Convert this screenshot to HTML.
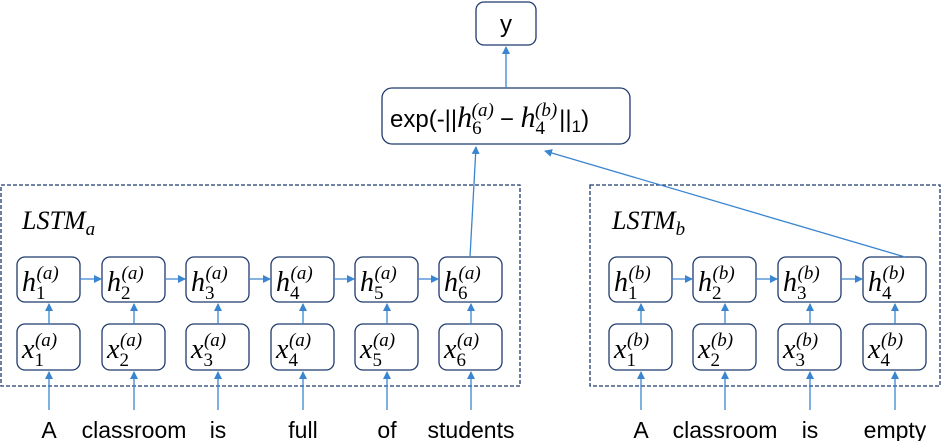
<!DOCTYPE html>
<html><head><style>body{margin:0;background:#fff}svg{display:block}</style></head><body>
<svg width="942" height="441" viewBox="0 0 942 441" xmlns="http://www.w3.org/2000/svg">
<defs><marker id="a" markerWidth="8" markerHeight="8" refX="7" refY="4" orient="auto" markerUnits="userSpaceOnUse"><path d="M0,0 L8,4 L0,8 z" fill="#3a85d0"/></marker></defs>
<g fill="none" stroke="#1f3a6e" stroke-width="1.3">
<rect x="1" y="185" width="519" height="201" stroke-dasharray="4,2"/>
<rect x="590" y="185" width="350" height="201" stroke-dasharray="4,2"/>
<rect x="476" y="2" width="60" height="43" rx="8"/>
<rect x="382" y="88" width="248" height="56" rx="10"/>
<rect x="17" y="257" width="63" height="45" rx="8"/><rect x="102" y="257" width="63" height="45" rx="8"/><rect x="186" y="257" width="63" height="45" rx="8"/><rect x="271" y="257" width="63" height="45" rx="8"/><rect x="355" y="257" width="63" height="45" rx="8"/><rect x="439" y="257" width="63" height="45" rx="8"/>
<rect x="17" y="324" width="63" height="46" rx="8"/><rect x="102" y="324" width="63" height="46" rx="8"/><rect x="186" y="324" width="63" height="46" rx="8"/><rect x="271" y="324" width="63" height="46" rx="8"/><rect x="355" y="324" width="63" height="46" rx="8"/><rect x="439" y="324" width="63" height="46" rx="8"/>
<rect x="609" y="257" width="63" height="45" rx="8"/><rect x="693" y="257" width="63" height="45" rx="8"/><rect x="778" y="257" width="63" height="45" rx="8"/><rect x="863" y="257" width="63" height="45" rx="8"/>
<rect x="609" y="324" width="63" height="46" rx="8"/><rect x="693" y="324" width="63" height="46" rx="8"/><rect x="778" y="324" width="63" height="46" rx="8"/><rect x="863" y="324" width="63" height="46" rx="8"/>
</g>
<g font-family="Liberation Sans, sans-serif" font-size="24" fill="#000">
<text x="506" y="32" text-anchor="middle">y</text>
<text x="390" y="127">exp(-||<tspan font-family="Liberation Serif" font-style="italic" font-size="30">h</tspan><tspan font-size="19" dy="7" font-family="Liberation Serif">6</tspan><tspan font-size="19" dy="-18" dx="-10" font-family="Liberation Serif" font-style="italic">(a)</tspan><tspan dy="11" dx="6">−  </tspan><tspan font-family="Liberation Serif" font-style="italic" font-size="30">h</tspan><tspan font-size="19" dy="7" font-family="Liberation Serif">4</tspan><tspan font-size="19" dy="-18" dx="-10" font-family="Liberation Serif" font-style="italic">(b)</tspan><tspan dy="11" dx="2">||</tspan><tspan font-size="17" dy="5">1</tspan><tspan dy="-5">)</tspan></text>
<text x="22" y="229" font-family="Liberation Serif" font-style="italic" font-size="26">LSTM<tspan font-size="19" dy="6">a</tspan></text>
<text x="612" y="229" font-family="Liberation Serif" font-style="italic" font-size="26">LSTM<tspan font-size="19" dy="6">b</tspan></text>
</g>
<g font-family="Liberation Serif" font-style="italic" font-size="28" fill="#000">
<text x="22" y="291">h<tspan font-style="normal" font-size="19" dy="8">1</tspan><tspan font-size="19" dy="-20" dx="-9">(a)</tspan></text>
<text x="107" y="291">h<tspan font-style="normal" font-size="19" dy="8">2</tspan><tspan font-size="19" dy="-20" dx="-9">(a)</tspan></text>
<text x="191" y="291">h<tspan font-style="normal" font-size="19" dy="8">3</tspan><tspan font-size="19" dy="-20" dx="-9">(a)</tspan></text>
<text x="276" y="291">h<tspan font-style="normal" font-size="19" dy="8">4</tspan><tspan font-size="19" dy="-20" dx="-9">(a)</tspan></text>
<text x="360" y="291">h<tspan font-style="normal" font-size="19" dy="8">5</tspan><tspan font-size="19" dy="-20" dx="-9">(a)</tspan></text>
<text x="444" y="291">h<tspan font-style="normal" font-size="19" dy="8">6</tspan><tspan font-size="19" dy="-20" dx="-9">(a)</tspan></text>
<text x="22" y="358">x<tspan font-style="normal" font-size="19" dy="8">1</tspan><tspan font-size="19" dy="-20" dx="-9">(a)</tspan></text>
<text x="107" y="358">x<tspan font-style="normal" font-size="19" dy="8">2</tspan><tspan font-size="19" dy="-20" dx="-9">(a)</tspan></text>
<text x="191" y="358">x<tspan font-style="normal" font-size="19" dy="8">3</tspan><tspan font-size="19" dy="-20" dx="-9">(a)</tspan></text>
<text x="276" y="358">x<tspan font-style="normal" font-size="19" dy="8">4</tspan><tspan font-size="19" dy="-20" dx="-9">(a)</tspan></text>
<text x="360" y="358">x<tspan font-style="normal" font-size="19" dy="8">5</tspan><tspan font-size="19" dy="-20" dx="-9">(a)</tspan></text>
<text x="444" y="358">x<tspan font-style="normal" font-size="19" dy="8">6</tspan><tspan font-size="19" dy="-20" dx="-9">(a)</tspan></text>
<text x="614" y="291">h<tspan font-style="normal" font-size="19" dy="8">1</tspan><tspan font-size="19" dy="-20" dx="-9">(b)</tspan></text>
<text x="698" y="291">h<tspan font-style="normal" font-size="19" dy="8">2</tspan><tspan font-size="19" dy="-20" dx="-9">(b)</tspan></text>
<text x="783" y="291">h<tspan font-style="normal" font-size="19" dy="8">3</tspan><tspan font-size="19" dy="-20" dx="-9">(b)</tspan></text>
<text x="868" y="291">h<tspan font-style="normal" font-size="19" dy="8">4</tspan><tspan font-size="19" dy="-20" dx="-9">(b)</tspan></text>
<text x="614" y="358">x<tspan font-style="normal" font-size="19" dy="8">1</tspan><tspan font-size="19" dy="-20" dx="-9">(b)</tspan></text>
<text x="698" y="358">x<tspan font-style="normal" font-size="19" dy="8">2</tspan><tspan font-size="19" dy="-20" dx="-9">(b)</tspan></text>
<text x="783" y="358">x<tspan font-style="normal" font-size="19" dy="8">3</tspan><tspan font-size="19" dy="-20" dx="-9">(b)</tspan></text>
<text x="868" y="358">x<tspan font-style="normal" font-size="19" dy="8">4</tspan><tspan font-size="19" dy="-20" dx="-9">(b)</tspan></text>
</g>
<g stroke="#3a85d0" stroke-width="1.3" fill="none">
<line x1="506" y1="88" x2="506" y2="47" marker-end="url(#a)"/>
<line x1="470" y1="257" x2="476" y2="147" marker-end="url(#a)"/>
<line x1="905" y1="257" x2="545" y2="151" marker-end="url(#a)"/>
<line x1="49" y1="324" x2="49" y2="304" marker-end="url(#a)"/><line x1="134" y1="324" x2="134" y2="304" marker-end="url(#a)"/><line x1="218" y1="324" x2="218" y2="304" marker-end="url(#a)"/><line x1="303" y1="324" x2="303" y2="304" marker-end="url(#a)"/><line x1="387" y1="324" x2="387" y2="304" marker-end="url(#a)"/><line x1="471" y1="324" x2="471" y2="304" marker-end="url(#a)"/>
<line x1="641" y1="324" x2="641" y2="304" marker-end="url(#a)"/><line x1="725" y1="324" x2="725" y2="304" marker-end="url(#a)"/><line x1="810" y1="324" x2="810" y2="304" marker-end="url(#a)"/><line x1="895" y1="324" x2="895" y2="304" marker-end="url(#a)"/>
<line x1="49" y1="410" x2="49" y2="372" marker-end="url(#a)"/><line x1="134" y1="410" x2="134" y2="372" marker-end="url(#a)"/><line x1="218" y1="410" x2="218" y2="372" marker-end="url(#a)"/><line x1="303" y1="410" x2="303" y2="372" marker-end="url(#a)"/><line x1="387" y1="410" x2="387" y2="372" marker-end="url(#a)"/><line x1="471" y1="410" x2="471" y2="372" marker-end="url(#a)"/>
<line x1="641" y1="410" x2="641" y2="372" marker-end="url(#a)"/><line x1="725" y1="410" x2="725" y2="372" marker-end="url(#a)"/><line x1="810" y1="410" x2="810" y2="372" marker-end="url(#a)"/><line x1="895" y1="410" x2="895" y2="372" marker-end="url(#a)"/>
<line x1="80" y1="279" x2="101" y2="279" marker-end="url(#a)"/><line x1="165" y1="279" x2="185" y2="279" marker-end="url(#a)"/><line x1="249" y1="279" x2="270" y2="279" marker-end="url(#a)"/><line x1="334" y1="279" x2="354" y2="279" marker-end="url(#a)"/><line x1="418" y1="279" x2="438" y2="279" marker-end="url(#a)"/>
<line x1="672" y1="279" x2="692" y2="279" marker-end="url(#a)"/><line x1="756" y1="279" x2="777" y2="279" marker-end="url(#a)"/><line x1="841" y1="279" x2="862" y2="279" marker-end="url(#a)"/>
</g>
<g font-family="Liberation Sans, sans-serif" font-size="23" fill="#000" text-anchor="middle">
<text x="49" y="438">A</text><text x="134" y="438">classroom</text><text x="218" y="438">is</text><text x="303" y="438">full</text><text x="387" y="438">of</text><text x="471" y="438">students</text>
<text x="641" y="438">A</text><text x="725" y="438">classroom</text><text x="810" y="438">is</text><text x="895" y="438">empty</text>
</g>
</svg>
</body></html>
